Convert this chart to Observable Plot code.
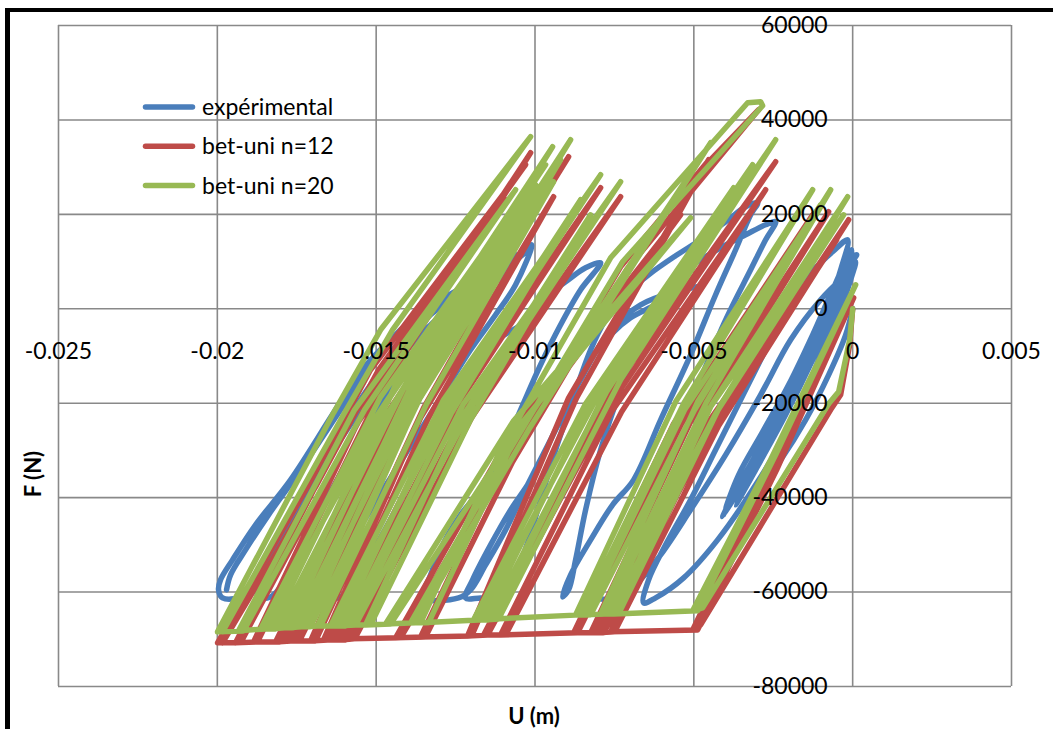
<!DOCTYPE html>
<html>
<head>
<meta charset="utf-8">
<script src="https://cdn.jsdelivr.net/npm/d3@7"></script>
<script src="https://cdn.jsdelivr.net/npm/@observablehq/plot@0.6"></script>
<style>
  html, body { margin: 0; padding: 0; background: #fff; }
  #chart { position: relative; width: 1053px; height: 729px; overflow: hidden; }
  #frame {
    position: absolute; left: 5px; top: 8px; width: 1200px; height: 900px;
    border-left: 5px solid #000; border-top: 4px solid #000; pointer-events: none;
  }
</style>
</head>
<body>
<div id="chart"><div id="frame"></div></div>
<script>
// Axis ticks (displacement in m, force in N)
const xTicks = [-0.025, -0.02, -0.015, -0.01, -0.005, 0, 0.005];
const yTicks = [-80000, -60000, -40000, -20000, 0, 20000, 40000, 60000];

const seriesNames = ["expérimental", "bet-uni n=12", "bet-uni n=20"];
const seriesColors = ["#4a7ebb", "#be4b48", "#98b954"];

// Measured force-displacement path [U (m), F (N)]
const experimental = [
  [0,0],[-0.00022,-5510],[-0.000756,-13980],[-0.00148,-23520],[-0.002267,-31990],[-0.002991,-38350],
  [-0.002424,-31990],[-0.001637,-21400],[-0.000945,-10800],[-0.000378,-210],[-0.000063,6140],[0.000094,9960],
  [-0.000126,7840],[-0.000535,1910],[-0.001165,-7630],[-0.001952,-19280],[-0.002897,-30930],[-0.003684,-41520],
  [-0.003054,-34110],[-0.00211,-22460],[-0.001259,-10800],[-0.00063,-1270],[-0.00022,6140],[0.000031,9750],
  [-0.000063,9320],[-0.000441,3600],[-0.001071,-6140],[-0.001889,-17160],[-0.002739,-27750],[-0.003463,-36230],[-0.003904,-41520],
  [-0.003275,-34110],[-0.00233,-23090],[-0.001385,-11230],[-0.000693,-640],[-0.000189,8260],[0.000126,11440],
  [-0.000189,9960],[-0.00063,4030],[-0.001259,-5510],[-0.002015,-16100],[-0.002834,-26060],[-0.003589,-35170],[-0.003999,-42580],
  [-0.003463,-36230],[-0.002519,-24580],[-0.001574,-12500],[-0.000819,-1270],[-0.000315,7200],[-0.000031,12500],
  [-0.00022,7200],[-0.000693,1910],[-0.001322,-7630],[-0.00211,-18220],[-0.003054,-30930],[-0.003841,-40460],[-0.004093,-44070],
  [-0.003369,-35800],[-0.002424,-23520],[-0.00148,-10800],[-0.000756,850],[-0.000378,8260],[-0.000157,14620],
  [-0.00063,12080],[-0.001008,9750],[-0.001732,4660],[-0.002424,-4450],[-0.003369,-17160],[-0.004314,-29870],[-0.005101,-40460],[-0.005888,-50000],[-0.006423,-57410],[-0.006581,-62290],
  [-0.006203,-61230],[-0.005321,-56990],[-0.004251,-48940],[-0.002991,-36650],[-0.001952,-24580],[-0.001259,-13980],[-0.000693,-4450],[-0.000283,2970],[-0.000063,7840],
  [-0.000378,6140],[-0.001008,1910],[-0.001952,-6570],[-0.002897,-18220],[-0.003999,-30930],[-0.005101,-42580],[-0.006045,-52120],[-0.006832,-58470],[-0.007305,-61020],[-0.008092,-61020],
  [-0.00784,-56350],[-0.007305,-48940],[-0.006675,-41520],[-0.005888,-30930],[-0.004943,-17160],[-0.003999,-2330],[-0.003212,8260],[-0.002739,14620],[-0.002424,18430],
  [-0.002739,17800],[-0.003369,15680],[-0.004156,12920],[-0.004786,10380],[-0.005416,7200],[-0.006045,1910],[-0.006675,-6570],[-0.007305,-17160],[-0.007934,-29870],[-0.008407,-42580],[-0.008722,-53180],[-0.008942,-59530],[-0.009131,-61020],
  [-0.008879,-56350],[-0.008249,-48940],[-0.007557,-41520],[-0.006895,-36230],[-0.006045,-23520],[-0.005101,-9750],[-0.004314,2970],[-0.003684,12500],[-0.003212,19910],[-0.002991,22460],
  [-0.003369,21610],[-0.003999,18430],[-0.004786,14620],[-0.005573,11230],[-0.006423,7200],[-0.007147,2970],[-0.007777,-2330],[-0.008249,-8690],[-0.008816,-19280],[-0.009351,-29870],[-0.009824,-40460],[-0.010201,-48940],[-0.010611,-56350],[-0.010926,-61020],[-0.011713,-61230],[-0.012185,-61230],
  [-0.011965,-57410],[-0.011398,-50000],[-0.010768,-42580],[-0.010138,-36230],[-0.009351,-25640],[-0.008564,-15040],[-0.00762,-4450],[-0.006675,850],[-0.00573,3390],[-0.00488,4660],
  [-0.005416,4030],[-0.006203,850],[-0.00699,-1910],[-0.00762,-5510],[-0.008249,-10800],[-0.008879,-19280],[-0.009509,-27750],[-0.010233,-37290],[-0.010926,-46820],[-0.011555,-54240],[-0.012028,-59530],[-0.012406,-61230],[-0.013507,-61230],
  [-0.013287,-56350],[-0.012909,-50000],[-0.012343,-43640],[-0.011713,-38350],[-0.011083,-30930],[-0.010453,-21400],[-0.009824,-11860],[-0.009194,-3390],[-0.008564,4030],[-0.007934,9750],
  [-0.008407,8690],[-0.009036,5720],[-0.009666,2540],[-0.010359,-2970],[-0.011178,-6570],[-0.012028,-12920],[-0.012815,-21400],[-0.013602,-31990],[-0.014389,-42580],[-0.015176,-52120],[-0.015806,-58470],[-0.016121,-61020],[-0.01653,-61230],
  [-0.016278,-56350],[-0.015806,-50000],[-0.015176,-42580],[-0.014389,-34110],[-0.013602,-25640],[-0.012815,-17160],[-0.012028,-8690],[-0.01124,-1270],[-0.010611,5080],[-0.010107,13560],
  [-0.010453,11440],[-0.010926,7840],[-0.011713,2540],[-0.012657,-2330],[-0.013696,-8690],[-0.014389,-15040],[-0.015176,-23520],[-0.015963,-33050],[-0.016751,-42580],[-0.01738,-51060],[-0.017853,-57410],[-0.018325,-61020],[-0.018734,-61020],
  [-0.018577,-57410],[-0.018325,-53180],[-0.017853,-46820],[-0.017223,-39410],[-0.016436,-30930],[-0.015491,-21400],[-0.014547,-12920],[-0.013602,-5510],[-0.012657,210],[-0.011713,4030],[-0.010768,9320],[-0.010138,12920],
  [-0.010611,10800],[-0.011398,7200],[-0.012343,3600],[-0.013287,-1270],[-0.014232,-7630],[-0.015176,-16100],[-0.016121,-25640],[-0.017065,-36230],[-0.017853,-45760],[-0.018482,-53180],[-0.018955,-58470],[-0.019269,-61020],[-0.019836,-61230],
  [-0.019962,-59530],[-0.019899,-57410],[-0.019521,-53180],[-0.018797,-45760],[-0.017695,-36230],[-0.016341,-22030],[-0.015491,-13350],[-0.014547,-6570],[-0.013602,-1270],[-0.0125,3390],[-0.011398,8260],[-0.010611,11440],
  [-0.011713,6570],[-0.012972,1910],[-0.014232,-4450],[-0.015176,-11860],[-0.016121,-21400],[-0.01738,-34110],[-0.018388,-43640],[-0.019112,-51060],[-0.019584,-56350],[-0.01971,-59530]
];

// Simulated path, bet-uni model with n=12 [U (m), F (N)]
const betUni12 = [
  [0,0],[-0.000094,-7630],[-0.000378,-18220],[-0.000693,-21400],[-0.004786,-66950],[-0.005038,-68010],
  [-0.002582,-34110],[0.000031,2330],[-0.002393,-34110],[-0.00488,-68010],
  [-0.00762,-68430],[-0.004471,-24790],[-0.000126,18860],[-0.004219,-24790],[-0.007494,-68430],
  [-0.007997,-68640],[-0.004849,-26910],[-0.000504,14620],[-0.004534,-26910],[-0.00784,-68640],
  [-0.008249,-68640],[-0.005101,-23940],[-0.000756,20550],[-0.004849,-23940],[-0.008123,-68640],
  [-0.008785,-68640],[-0.005636,-24360],[-0.001259,19910],[-0.005384,-24360],[-0.008659,-68640],
  [-0.011083,-69070],[-0.007588,-21820],[-0.002739,25210],[-0.007273,-21820],[-0.010926,-69070],
  [-0.011618,-69070],[-0.007746,-18860],[-0.002424,31140],[-0.007494,-18860],[-0.011492,-69070],
  [-0.012122,-69280],[-0.008942,-18860],[-0.004534,31570],[-0.00869,-18860],[-0.011996,-69280],
  [-0.013602,-69490],[-0.010926,-31990],[-0.007305,8900],[-0.004597,30930],[-0.004471,31570],[-0.00296,42160],
  [-0.007116,8260],[-0.010705,-32410],[-0.013445,-69490],
  [-0.014389,-69700],[-0.010611,-24790],[-0.005416,19910],[-0.010296,-24790],[-0.014232,-69700],
  [-0.015806,-69910],[-0.012248,-23090],[-0.007305,23730],[-0.011996,-23090],[-0.01568,-69910],
  [-0.016121,-70130],[-0.012815,-26060],[-0.008249,17800],[-0.0125,-26060],[-0.015963,-70130],
  [-0.016436,-70130],[-0.012878,-22250],[-0.007934,25640],[-0.012626,-22250],[-0.01631,-70130],
  [-0.016656,-70130],[-0.013602,-23090],[-0.009414,23730],[-0.01335,-23090],[-0.01653,-70130],
  [-0.017065,-70340],[-0.013822,-20970],[-0.009351,28390],[-0.013507,-20970],[-0.016908,-70340],
  [-0.017538,-70340],[-0.013917,-19070],[-0.008942,32200],[-0.013665,-19070],[-0.017412,-70340],
  [-0.017853,-70340],[-0.014735,-24790],[-0.010453,20970],[-0.014421,-24790],[-0.017695,-70340],
  [-0.018167,-70550],[-0.01461,-21610],[-0.009666,27330],[-0.014358,-21610],[-0.018041,-70550],
  [-0.01886,-70550],[-0.015208,-18860],[-0.010138,33050],[-0.014956,-18860],[-0.018734,-70550],
  [-0.019427,-70760],[-0.015869,-23940],[-0.010926,23090],[-0.015554,-23940],[-0.019269,-70760],
  [-0.019994,-70760],[-0.01716,-37710],[-0.015176,-12920],[-0.010296,30510],[-0.014924,-12920],[-0.016908,-37710],[-0.019836,-70760]
];

// Simulated path, bet-uni model with n=20 [U (m), F (N)]
const betUni20 = [
  [0,0],[-0.000094,-6570],[-0.000441,-17580],[-0.000756,-20130],[-0.004723,-63350],[-0.005038,-63980],
  [-0.002582,-31990],[0.000094,5080],[-0.002424,-30930],[-0.00488,-63980],
  [-0.007525,-64620],[-0.00444,-20340],[-0.000157,23730],[-0.004156,-20340],[-0.007368,-64620],
  [-0.007777,-64620],[-0.004628,-22250],[-0.000283,19910],[-0.004314,-22250],[-0.00762,-64620],
  [-0.007934,-64620],[-0.00488,-19700],[-0.000693,25210],[-0.004597,-19700],[-0.007809,-64620],
  [-0.008407,-64830],[-0.00529,-21400],[-0.001008,22030],[-0.004975,-21400],[-0.008249,-64830],
  [-0.008722,-64830],[-0.005573,-19700],[-0.001259,25210],[-0.00529,-19700],[-0.008564,-64830],
  [-0.011303,-65680],[-0.007588,-15040],[-0.002424,35800],[-0.007305,-15040],[-0.011146,-65680],
  [-0.011618,-65890],[-0.00806,-17580],[-0.003149,30510],[-0.007746,-17580],[-0.011461,-65890],
  [-0.011933,-65890],[-0.008407,-20130],[-0.003747,25640],[-0.008155,-20130],[-0.011776,-65890],
  [-0.013602,-66520],[-0.011083,-29870],[-0.00762,10800],[-0.003306,43640],[-0.002897,43860],[-0.002834,43000],
  [-0.007242,9960],[-0.010831,-30300],[-0.01335,-66520],
  [-0.013917,-66520],[-0.010453,-25640],[-0.004471,35170],[-0.010201,-25640],[-0.013759,-66520],
  [-0.014704,-66740],[-0.010674,-23730],[-0.005101,19280],[-0.010359,-23730],[-0.014547,-66740],
  [-0.015334,-66950],[-0.012343,-23520],[-0.008249,19910],[-0.012028,-23520],[-0.015176,-66950],
  [-0.015806,-66950],[-0.012248,-20130],[-0.007305,26910],[-0.011933,-20130],[-0.015649,-66950],
  [-0.016121,-67160],[-0.012941,-22030],[-0.008564,23090],[-0.012626,-22030],[-0.015963,-67160],
  [-0.016436,-67160],[-0.012878,-19280],[-0.007934,28390],[-0.012563,-19280],[-0.01631,-67160],
  [-0.016845,-67160],[-0.013728,-20130],[-0.009414,26910],[-0.013413,-20130],[-0.016751,-67160],
  [-0.017223,-67370],[-0.013854,-17800],[-0.009194,31570],[-0.013539,-17800],[-0.017065,-67370],
  [-0.017475,-67370],[-0.013854,-15680],[-0.008879,35800],[-0.013539,-15680],[-0.017349,-67370],
  [-0.017758,-67580],[-0.014484,-20550],[-0.009981,26270],[-0.014169,-20550],[-0.017601,-67580],
  [-0.01801,-67580],[-0.014421,-16530],[-0.009446,34320],[-0.014106,-16530],[-0.017884,-67580],
  [-0.018325,-67800],[-0.015271,-25640],[-0.011083,16740],[-0.014956,-25640],[-0.018167,-67800],
  [-0.01864,-67800],[-0.014861,-18640],[-0.009666,30510],[-0.014547,-18640],[-0.018514,-67800],
  [-0.019332,-68220],[-0.01568,-21400],[-0.010611,25210],[-0.015365,-21400],[-0.019175,-68220],
  [-0.019994,-68430],[-0.016341,-22030],[-0.014861,-4450],[-0.010138,36440],[-0.014484,-4450],[-0.015995,-22030],[-0.019836,-68430]
];

const toRows = pts => pts.map(([u, F]) => ({u, F}));
const lineStyle = {x: "u", y: "F", strokeWidth: 5.5, strokeLinejoin: "round", strokeLinecap: "round"};
const font = "Lato, 'Open Sans', sans-serif";

const chart = Plot.plot({
  width: 1053,
  height: 729,
  marginLeft: 58,
  marginRight: 42,
  marginTop: 25,
  marginBottom: 43,
  x: {domain: [-0.025, 0.005], axis: null},
  y: {domain: [-80000, 60000], axis: null},
  style: {fontFamily: font, fontSize: "23px", background: "#fff", overflow: "visible"},
  marks: [
    Plot.ruleX(xTicks, {x: d => d, stroke: "#898989", strokeWidth: 1.6}),
    Plot.ruleY(yTicks, {y: d => d, stroke: "#898989", strokeWidth: 1.6}),
    Plot.line(toRows(experimental), {...lineStyle, stroke: seriesColors[0], curve: "catmull-rom"}),
    Plot.line(toRows(betUni12), {...lineStyle, stroke: seriesColors[1]}),
    Plot.line(toRows(betUni20), {...lineStyle, stroke: seriesColors[2]}),
    // tick labels sit on the axes that cross at the origin
    Plot.text(xTicks, {x: d => d, y: 0, text: d => String(d), dy: 34, lineAnchor: "top", fontSize: 23, fill: "#000"}),
    Plot.text(yTicks, {x: 0, y: d => d, text: d => String(d), dx: -25, textAnchor: "end", fontSize: 23, fill: "#000"})
  ]
});

const svg = d3.select(chart);

// legend in the upper left of the plot area
const legend = svg.append("g")
  .attr("font-family", font).attr("font-size", 23).attr("fill", "#000").attr("text-anchor", "start");
seriesNames.forEach((name, i) => {
  const y = 107 + i * 39.3;
  legend.append("line")
    .attr("x1", 145.5).attr("x2", 192.5).attr("y1", y).attr("y2", y)
    .attr("stroke", seriesColors[i]).attr("stroke-width", 5.5).attr("stroke-linecap", "round");
  legend.append("text").attr("x", 202).attr("y", y + 8).text(name);
});

// axis titles
svg.append("text")
  .attr("x", 534).attr("y", 724).attr("text-anchor", "middle")
  .attr("font-family", font).attr("font-size", 22).attr("font-weight", "bold").attr("fill", "#000")
  .text("U (m)");
svg.append("text")
  .attr("transform", "translate(40.5,474) rotate(-90)").attr("text-anchor", "middle")
  .attr("font-family", font).attr("font-size", 22).attr("font-weight", "bold").attr("fill", "#000")
  .text("F (N)");

document.getElementById("chart").prepend(chart);
</script>
</body>
</html>
